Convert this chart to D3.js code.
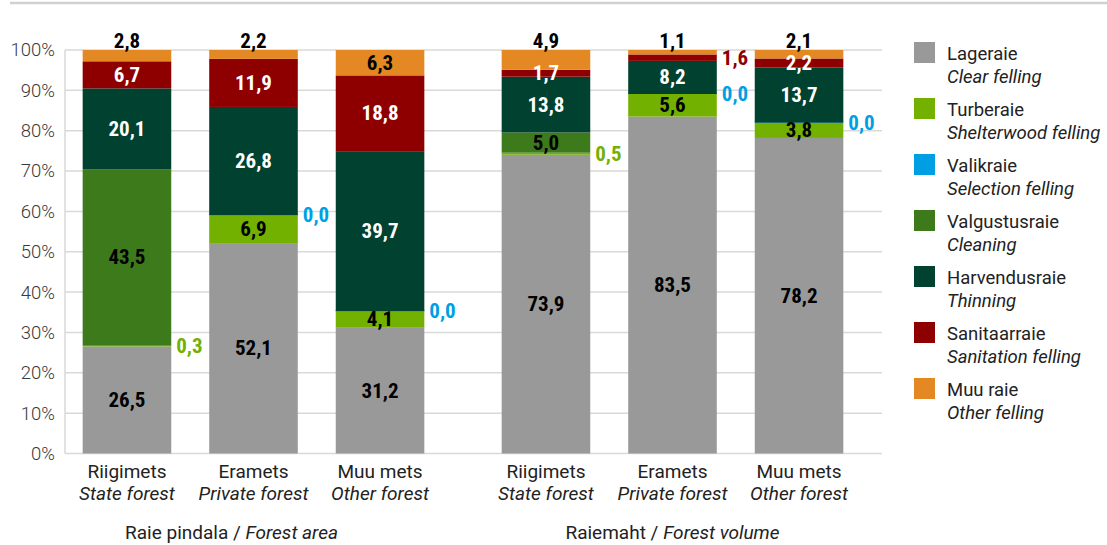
<!DOCTYPE html>
<html>
<head>
<meta charset="utf-8">
<script src="https://cdn.jsdelivr.net/npm/d3@7"></script>
<style>
  body { margin: 0; background: #fff; }
  svg { display: block; }
</style>
</head>
<body>
<svg width="1107" height="545"></svg>
<script>
// groups and categories
const groups = ["area", "volume"]
const groupLabels = { area: ["Raie pindala / ", "Forest area"], volume: ["Raiemaht / ", "Forest volume"] }
const categories = ["Riigimets", "Eramets", "Muu mets"]
const categoriesEn = ["State forest", "Private forest", "Other forest"]

const seriesNames = ["Lageraie", "Turberaie", "Valikraie", "Valgustusraie", "Harvendusraie", "Sanitaarraie", "Muu raie"]
const seriesNamesEn = ["Clear felling", "Shelterwood felling", "Selection felling", "Cleaning", "Thinning", "Sanitation felling", "Other felling"]
const colors = ["#999999", "#73b100", "#009fe3", "#3c7a1b", "#00412f", "#8e0000", "#e38822"]
const insideText = ["#000", "#000", "#000", "#000", "#fff", "#fff", "#000"]

// values per series, order: area (state, private, other), volume (state, private, other)
const lageraie      = [26.5, 52.1, 31.2, 73.9, 83.5, 78.2]
const turberaie     = [0.3, 6.9, 4.1, 0.5, 5.6, 3.8]
const valikraie     = [null, 0.0, 0.0, null, 0.0, 0.0]
const valgustusraie = [43.5, null, null, 5.0, null, null]
const harvendusraie = [20.1, 26.8, 39.7, 13.8, 8.2, 13.7]
const sanitaarraie  = [6.7, 11.9, 18.8, 1.7, 1.6, 2.2]
const muuRaie       = [2.8, 2.2, 6.3, 4.9, 1.1, 2.1]
const seriesValues = [lageraie, turberaie, valikraie, valgustusraie, harvendusraie, sanitaarraie, muuRaie]

const yTicks = [0, 10, 20, 30, 40, 50, 60, 70, 80, 90, 100]

// labels that sit right of the bar even though >= 1
const forceOutside = new Set(["volume|Eramets|Sanitaarraie"])

const rows = []
groups.forEach((g, gi) => {
  categories.forEach((c, ci) => {
    const row = { group: g, cat: c, catEn: categoriesEn[ci] }
    seriesNames.forEach((s, si) => { row[s] = seriesValues[si][gi * 3 + ci] })
    rows.push(row)
  })
})

const svg = d3.select("svg")
const labelFont = "'Roboto Condensed', 'Liberation Sans Narrow', 'DejaVu Sans Condensed', sans-serif"

// top rule
svg.append("line").attr("x1", 10).attr("x2", 1107).attr("y1", 3).attr("y2", 3)
  .attr("stroke", "#d0d0d0").attr("stroke-width", 2.5)

const plotLeft = 65, plotRight = 882
const y = d3.scaleLinear().domain([0, 1]).range([453.5, 50])
const xGroup = d3.scaleBand().domain(groups).range([44, 882]).paddingInner(0.1).paddingOuter(0.05)
const xCat = d3.scaleBand().domain(categories).range([0, xGroup.bandwidth()]).paddingInner(0.3).paddingOuter(0.14)
const barX = d => xGroup(d.group) + xCat(d.cat)
const bw = xCat.bandwidth()

// grid
svg.append("g").selectAll("line").data(yTicks).join("line")
  .attr("x1", plotLeft).attr("x2", plotRight)
  .attr("y1", d => y(d / 100)).attr("y2", d => y(d / 100))
  .attr("stroke", "#d9d9d9").attr("stroke-width", 1.5)
svg.append("line").attr("x1", plotLeft).attr("x2", plotLeft).attr("y1", y(1)).attr("y2", y(0))
  .attr("stroke", "#d9d9d9").attr("stroke-width", 1.5)

const yAxis = d3.axisLeft(y).tickValues(yTicks.map(t => t / 100)).tickFormat(d => Math.round(d * 100) + "%").tickSize(0).tickPadding(10)
const ya = svg.append("g").attr("transform", `translate(${plotLeft},0)`).call(yAxis)
ya.select(".domain").remove()
ya.selectAll("text").attr("font-family", "Roboto, sans-serif").attr("font-weight", 300)
  .attr("font-size", 18.5).attr("fill", "#3a3a3a")

// stacks
const stack = d3.stack().keys(seriesNames).value((d, k) => d[k] || 0).offset(d3.stackOffsetExpand)
const stacked = stack(rows)

const segs = svg.append("g")
stacked.forEach((layer, si) => {
  segs.selectAll(null).data(layer.filter(p => p.data[seriesNames[si]] !== null)).join("rect")
    .attr("x", p => barX(p.data))
    .attr("width", bw)
    .attr("y", p => {
      const h = y(p[0]) - y(p[1])
      return h < 1.5 ? y(p[0]) - 1.5 : y(p[1])
    })
    .attr("height", p => Math.max(1.5, y(p[0]) - y(p[1])))
    .attr("fill", colors[si])
})

// value labels
const fmt = v => v.toFixed(1).replace(".", ",")
const labels = svg.append("g").attr("font-family", labelFont).attr("font-weight", "bold")
  .attr("font-size", 21).attr("dominant-baseline", "central")
stacked.forEach((layer, si) => {
  const name = seriesNames[si]
  layer.forEach(p => {
    const v = p.data[name]
    if (v === null || v === undefined) return
    const mid = (y(p[0]) + y(p[1])) / 2
    const cx = barX(p.data) + bw / 2
    const key = p.data.group + "|" + p.data.cat + "|" + name
    let t
    if (v < 1 || forceOutside.has(key)) {
      t = labels.append("text").attr("x", barX(p.data) + bw + 5).attr("y", mid)
        .attr("text-anchor", "start").attr("fill", colors[si])
    } else if (name === "Muu raie" && v < 5) {
      t = labels.append("text").attr("x", cx).attr("y", y(p[1]) - 9)
        .attr("text-anchor", "middle").attr("fill", "#000")
    } else {
      t = labels.append("text").attr("x", cx).attr("y", mid)
        .attr("text-anchor", "middle").attr("fill", insideText[si])
    }
    t.text(fmt(v))
  })
})

// category labels
const catG = svg.append("g").attr("font-family", "Roboto, sans-serif").attr("font-size", 19).attr("fill", "#222")
  .attr("text-anchor", "middle")
rows.forEach(r => {
  const cx = barX(r) + bw / 2
  catG.append("text").attr("x", cx).attr("y", 478).text(r.cat)
  catG.append("text").attr("x", cx).attr("y", 500).attr("font-style", "italic").text(r.catEn)
})
// group labels centred on each half of the category axis
const split = (xGroup("area") + xGroup.bandwidth() + xGroup("volume")) / 2
const groupSpans = { area: [0, split], volume: [split, plotRight] }
groups.forEach(g => {
  const t = catG.append("text").attr("x", (groupSpans[g][0] + groupSpans[g][1]) / 2).attr("y", 539)
  t.append("tspan").text(groupLabels[g][0])
  t.append("tspan").attr("font-style", "italic").text(groupLabels[g][1])
})

// legend
const legend = svg.append("g").attr("font-family", "Roboto, sans-serif").attr("font-size", 18.5).attr("fill", "#222")
seriesNames.forEach((s, i) => {
  const ly = 42 + i * 56
  legend.append("rect").attr("x", 914).attr("y", ly).attr("width", 21).attr("height", 21).attr("fill", colors[i])
  legend.append("text").attr("x", 947).attr("y", ly + 18).text(s)
  legend.append("text").attr("x", 947).attr("y", ly + 41).attr("font-style", "italic").text(seriesNamesEn[i])
})
</script>
</body>
</html>
